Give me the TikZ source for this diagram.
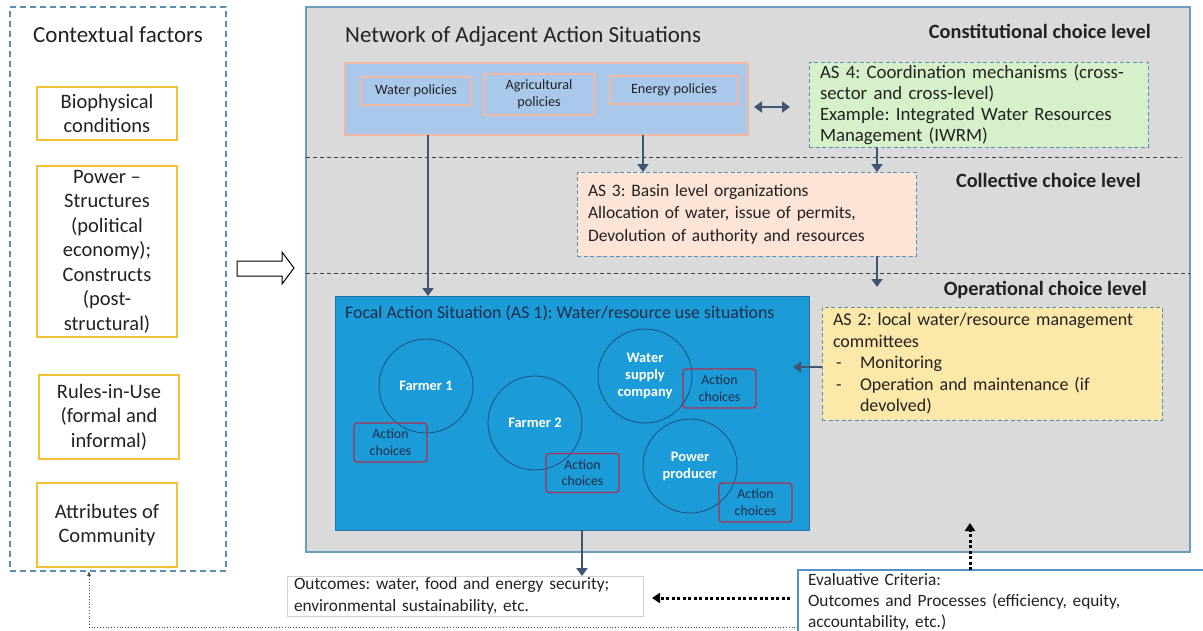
\documentclass[tikz,border=0pt]{standalone}
\usepackage{fontspec}
\setmainfont{Carlito}
\usetikzlibrary{arrows.meta,calc}
\definecolor{ctxblue}{HTML}{5B8FB2}
\definecolor{ybord}{HTML}{F2C233}
\definecolor{gfill}{HTML}{DADADA}
\definecolor{mainbord}{HTML}{6C9EC2}
\definecolor{polfill}{HTML}{A9C8EA}
\definecolor{polbord}{HTML}{F2B8A2}
\definecolor{grfill}{HTML}{D6F0C9}
\definecolor{pkfill}{HTML}{FCE4D6}
\definecolor{yefill}{HTML}{FCE8A8}
\definecolor{focfill}{HTML}{1B9BD7}
\definecolor{focbord}{HTML}{2C6EA6}
\definecolor{circ}{HTML}{1F4E79}
\definecolor{acbord}{HTML}{B0304F}
\definecolor{actext}{HTML}{1B2D48}
\definecolor{arr}{HTML}{3E5573}
\definecolor{txt}{HTML}{222222}
\definecolor{evbord}{HTML}{4F94C4}
\definecolor{outbord}{HTML}{CFCFCF}
\definecolor{lvline}{HTML}{404040}
\newcommand\myfs[2]{\fontsize{#1}{#2}\selectfont}
\frenchspacing
\begin{document}
\frenchspacing
\begin{tikzpicture}[x=1pt,y=-1pt,
  every node/.style={text=txt},
  box/.style={anchor=north west, inner sep=0pt, outer sep=0pt},
  ybox/.style={box, draw=ybord, line width=1.5pt, align=center, font=\myfs{20.5}{24.5}},
  lvl/.style={anchor=base east, inner sep=0pt, font=\myfs{20.3}{22}\bfseries},
  levelline/.style={draw=lvline, line width=1pt, dash pattern=on 4pt off 3pt},
  pbox/.style={box, draw=polbord, fill=polfill, line width=1.3pt, align=center, font=\myfs{14.2}{17}},
  asbox/.style={box, draw=ctxblue, dash pattern=on 4pt off 2.5pt, line width=1pt, align=left, inner xsep=11pt},
  actor/.style={circle, draw=circ, line width=0.8pt, minimum size=94pt, inner sep=0pt, text=white, font=\myfs{14.5}{17}\bfseries, align=center},
  acbox/.style={draw=acbord, rounded corners=3pt, line width=1.3pt, minimum width=73pt, minimum height=39pt, inner sep=0pt, text=actext, font=\myfs{13.8}{16.5}, align=center},
  conn/.style={draw=arr, line width=2.8pt, -{Triangle[length=8pt,width=11pt]}},
  dotarr/.style={draw=black, line width=3pt, dash pattern=on 3pt off 2.5pt, -{Triangle[length=8pt,width=10pt]}}
]
\useasboundingbox (0,0) rectangle (1203,630);

% contextual factors
\node[box, draw=ctxblue, dash pattern=on 6pt off 4pt, line width=1.3pt, minimum width=216pt, minimum height=564pt] (ctx) at (10,7) {};
\node[anchor=base, inner sep=0pt, font=\myfs{23}{26}] (ctxt) at (118,42) {Contextual factors};
\node[ybox, minimum width=140pt, minimum height=53pt] (bio) at (37,87) {Biophysical\\conditions};
\node[ybox, minimum width=140pt, minimum height=171pt] (pow) at (37,166) {Power --\\Structures\\(political\\economy);\\Constructs\\(post-\\structural)};
\node[ybox, minimum width=140pt, minimum height=84pt] (rules) at (39,375) {Rules-in-Use\\(formal and\\informal)};
\node[ybox, minimum width=140pt, minimum height=84pt] (attr) at (37,483) {Attributes of\\Community};

% open arrow
\draw[line width=1pt, fill=white] (237,261) -- (282,261) -- (282,252) -- (294,268) -- (282,284) -- (282,276) -- (237,276) -- cycle;

% main gray box
\node[box, draw=mainbord, fill=gfill, line width=1.2pt, minimum width=884pt, minimum height=545pt] (main) at (306,7) {};
\node[anchor=base west, inner sep=0pt, font=\myfs{23}{26}] (nt) at (345,42) {Network of Adjacent Action Situations};
\node[lvl] (l1) at (1151,38) {Constitutional choice level};
\node[lvl] (l2) at (1141,187) {Collective choice level};
\node[lvl] (l3) at (1147,295) {Operational choice level};
\draw[levelline] (306,157) -- (1182,157);
\draw[levelline] (306,273) -- (1190,273);

% policies
\node[box, draw=polbord, fill=polfill, line width=1.5pt, minimum width=403pt, minimum height=72pt] (pol) at (345,63) {};
\node[pbox, minimum width=110pt, minimum height=28pt] (wp) at (361,77) {Water policies};
\node[pbox, minimum width=110pt, minimum height=41pt] (ap) at (484,74) {Agricultural\\policies};
\node[pbox, minimum width=128pt, minimum height=28pt] (ep) at (610,76) {Energy policies};

% AS boxes
\node[asbox, fill=grfill, minimum width=339pt, minimum height=85pt, text width=317pt, font=\myfs{18.8}{21}] (as4) at (809,62)
 {AS 4: Coordination mechanisms (cross-\\sector and cross-level)\\Example: Integrated Water Resources\\Management (IWRM)};
\node[asbox, fill=pkfill, minimum width=339pt, minimum height=84pt, text width=317pt, font=\myfs{17.5}{22.5}] (as3) at (577,172)
 {AS 3: Basin level organizations\\Allocation of water, issue of permits,\\Devolution of authority and resources};
\node[asbox, fill=yefill, minimum width=340pt, minimum height=113pt, text width=318pt, font=\myfs{18}{21.5}] (as2) at (822,307)
 {AS 2: local water/resource management\\committees\\\makebox[27pt][l]{\hspace{3pt}-}Monitoring\\\makebox[27pt][l]{\hspace{3pt}-}Operation and maintenance (if\\\hspace*{27pt}devolved)};

% focal action situation
\node[box, draw=focbord, fill=focfill, line width=1pt, minimum width=474pt, minimum height=234pt] (foc) at (335,296) {};
\node[anchor=base west, inner sep=0pt, font=\myfs{17.8}{20}, text=actext] (foct) at (345,318) {Focal Action Situation (AS 1): Water/resource use situations};
\node[actor] (f1) at (426,386) {Farmer 1};
\node[actor] (f2) at (535,423) {Farmer 2};
\node[actor] (wsc) at (645,376) {Water\\supply\\company};
\node[actor] (pp) at (690,466) {Power\\producer};
\node[acbox] (ac1) at (390.5,442.5) {Action\\choices};
\node[acbox] (ac2) at (582.5,473) {Action\\choices};
\node[acbox] (ac3) at (719.5,388.5) {Action\\choices};
\node[acbox] (ac4) at (755.5,502.5) {Action\\choices};

% outcomes and evaluative criteria
\node[box, draw=outbord, fill=white, line width=0.8pt, minimum width=356pt, minimum height=40pt, text width=342pt, inner xsep=7pt, align=left, font=\myfs{17.3}{21.5}] (outc) at (287,576)
 {Outcomes: water, food and energy security;\\environmental sustainability, etc.};
\node[box, draw=evbord, fill=white, line width=1.5pt, minimum width=420pt, minimum height=64pt, text width=400pt, inner xsep=10pt, align=left, font=\myfs{17.3}{21}] (eval) at (798,570)
 {Evaluative Criteria:\\Outcomes and Processes (efficiency, equity,\\accountability, etc.)};

% helper coordinates
\coordinate (x428) at (428,0);
\coordinate (x643) at (643,0);
\coordinate (x877) at (877,0);
\coordinate (x582) at (582,0);
\coordinate (x89) at (89,0);
\coordinate (y367) at (0,367);
\coordinate (y627) at (0,627);
\coordinate (opend) at (877,287);
\coordinate (as2tip) at (793,367);
\coordinate (dl) at ($(pol.east)+(6,8)$);
\coordinate (dr) at ($(as4.west)+(-19,2.5)$);
\coordinate (e2t) at (970,523);

% connectors
\draw[conn] (pol.south -| x428) -- (foc.north -| x428);
\draw[conn] (pol.south -| x643) -- (as3.north -| x643);
\draw[conn] (as4.south -| x877) -- (as3.north -| x877);
\draw[conn] (as3.south -| x877) -- (opend);
\draw[conn] (as2.west |- y367) -- (as2tip);
\draw[conn, {Triangle[length=8pt,width=11pt]}-{Triangle[length=8pt,width=11pt]}] (dl) -- (dr);
\draw[conn] (foc.south -| x582) -- (outc.north -| x582);
\draw[dotarr] ([xshift=-8pt,yshift=4pt]eval.west) -- ([xshift=9pt,yshift=-2pt]outc.east);
\draw[dotarr] ([xshift=-38pt]eval.north) -- (e2t);
\draw[draw=black!70, line width=0.8pt, dotted, -{Latex[length=5pt,width=4pt]}] (eval.west |- y627) -| (ctx.south -| x89);
\end{tikzpicture}
\end{document}
